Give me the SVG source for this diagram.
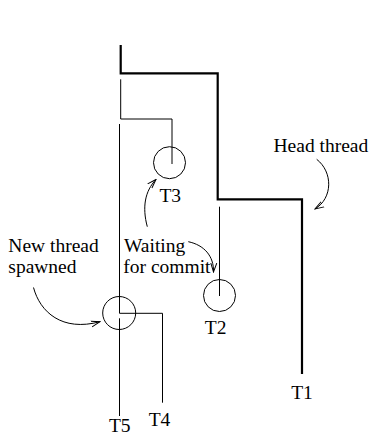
<svg xmlns="http://www.w3.org/2000/svg" width="372" height="437" viewBox="0 0 372 437">
<defs>
<style>
.thick{fill:none;stroke:#000;stroke-width:2.2}
.thin{fill:none;stroke:#000;stroke-width:1}
.arr{fill:none;stroke:#000;stroke-width:1;marker-end:url(#ah)}
.lbl{font-family:"Liberation Serif","Times New Roman",serif;font-size:19.5px;fill:#000}
.mid{text-anchor:middle}
</style>
<marker id="ah" markerWidth="10" markerHeight="8" refX="9" refY="4" orient="auto" markerUnits="userSpaceOnUse">
<path d="M0,1 L9,4 L0,7" fill="none" stroke="#000" stroke-width="1"/>
</marker>
</defs>
<rect width="372" height="437" fill="#fff"/>
<g id="connectors">
<polyline id="T1-thread" class="thick" points="120.7,45 120.7,73.3 217.7,73.3 217.7,199.3 302,199.3 302,374"/>
<polyline id="T3-thread" class="thin" points="120.7,79.3 120.7,119 172,119 172,164"/>
<polyline id="T4-thread" class="thin" points="119.5,124 119.5,313.3 162.5,313.3 162.5,402.7"/>
<polyline id="T5-thread" class="thin" points="119.5,318.3 119.5,416"/>
<polyline id="T2-thread" class="thin" points="219.5,206.7 219.5,296"/>
<path id="arrow-head" class="arr" d="M316.7,159.3 C333,172 333,198 315,209"/>
<path id="arrow-T3" class="arr" d="M147.3,226.7 C142,207 145,191 156,179.5"/>
<path id="arrow-T2" class="arr" d="M188.3,241.7 C204,245 214,256 213.5,272"/>
<path id="arrow-new" class="arr" d="M33.5,287.5 C40,312 62,332 100,321.7"/>
</g>
<g id="T3"><circle class="thin" cx="169.5" cy="162.7" r="16"/><text class="lbl mid" x="170.3" y="201.5">T3</text></g>
<g id="T2"><circle class="thin" cx="219.5" cy="295.5" r="16"/><text class="lbl mid" x="215.7" y="334.3">T2</text></g>
<g id="spawn"><circle class="thin" cx="119.2" cy="313" r="16.5"/></g>
<g id="T1"><text class="lbl mid" x="302" y="399">T1</text></g>
<g id="T4"><text class="lbl mid" x="159.5" y="426">T4</text></g>
<g id="T5"><text class="lbl mid" x="119.8" y="432">T5</text></g>
<g id="head-label"><text class="lbl" x="273.5" y="152.3">Head thread</text></g>
<g id="new-label"><text class="lbl" x="8.3" y="252.3">New thread</text><text class="lbl" x="8.3" y="273.3">spawned</text></g>
<g id="wait-label"><text class="lbl" x="124" y="252.3">Waiting</text><text class="lbl" x="123.3" y="273.3">for commit</text></g>
</svg>
